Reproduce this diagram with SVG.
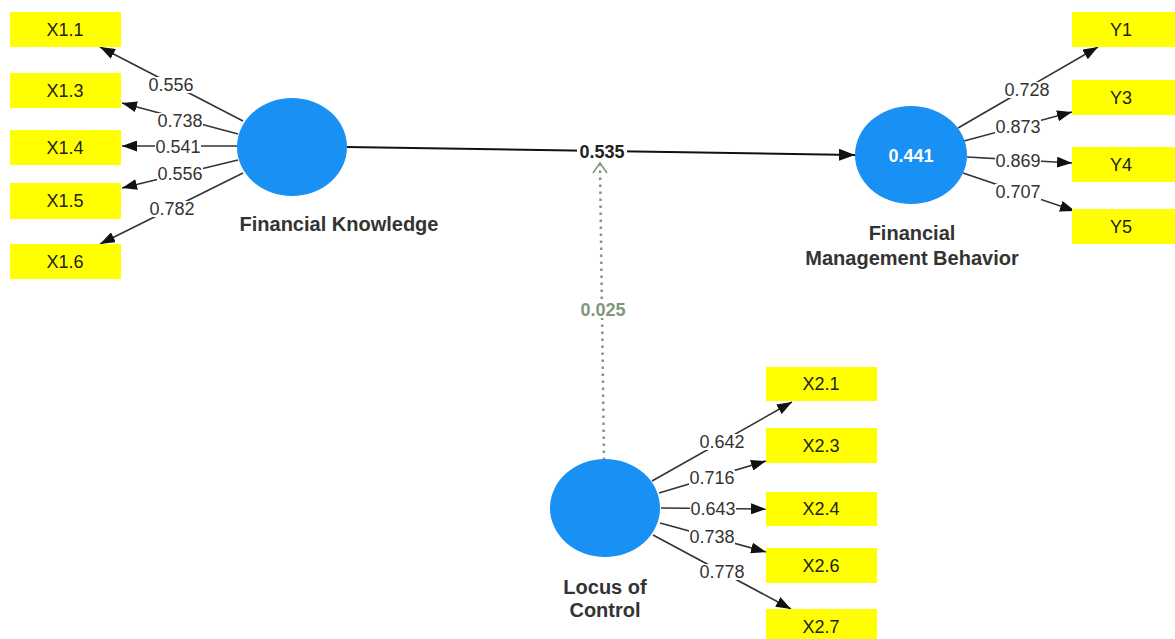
<svg xmlns="http://www.w3.org/2000/svg" width="1175" height="639" viewBox="0 0 1175 639">
<defs>
<style>
.box{fill:#ffff00}
.boxt{font-family:"Liberation Sans",Arial,sans-serif;font-size:18px;fill:#222;text-anchor:middle}
.lv{fill:#1890f4}
.title{font-family:"Liberation Sans",Arial,sans-serif;font-size:20px;font-weight:bold;fill:#333;text-anchor:middle}
.ld{stroke:#333;stroke-width:1.6;fill:none;marker-end:url(#ah)}
.bg{fill:#fff}
.lbl{font-family:"Liberation Sans",Arial,sans-serif;font-size:18px;fill:#333;text-anchor:middle}
</style>
<marker id="ah" viewBox="0 0 15 11" refX="15" refY="5.5" markerWidth="15" markerHeight="11" markerUnits="userSpaceOnUse" orient="auto">
<path d="M0,0 L15,5.5 L0,11 Z" fill="#111"/>
</marker>
<marker id="ahm" viewBox="0 0 16 12" refX="16" refY="6" markerWidth="16" markerHeight="12" markerUnits="userSpaceOnUse" orient="auto">
<path d="M0,0 L16,6 L0,12 Z" fill="#111"/>
</marker>
</defs>
<rect width="1175" height="639" fill="#fff"/>
<g id="connectors">
<line class="ld" x1="243" y1="121" x2="100" y2="47"/>
<line class="ld" x1="238" y1="134" x2="122" y2="103"/>
<line class="ld" x1="237" y1="146" x2="122" y2="146"/>
<line class="ld" x1="238" y1="160" x2="122" y2="188"/>
<line class="ld" x1="243" y1="173" x2="100" y2="244"/>
<line class="ld" x1="958" y1="128" x2="1098" y2="47"/>
<line class="ld" x1="964" y1="141" x2="1072" y2="112"/>
<line class="ld" x1="967" y1="157" x2="1072" y2="163"/>
<line class="ld" x1="963" y1="173" x2="1075" y2="211"/>
<line class="ld" x1="652" y1="481" x2="792" y2="402"/>
<line class="ld" x1="659" y1="493" x2="766" y2="461"/>
<line class="ld" x1="661" y1="508" x2="766" y2="509"/>
<line class="ld" x1="660" y1="523" x2="766" y2="552"/>
<line class="ld" x1="653" y1="535" x2="791" y2="609"/>
<line x1="347" y1="147" x2="855" y2="155" stroke="#111" stroke-width="2" marker-end="url(#ahm)"/>
<line x1="604" y1="460" x2="600" y2="165" stroke="#7d987d" stroke-width="2.5" stroke-dasharray="2.5,4.5"/>
<polyline points="593,173 600,163 607,173" fill="none" stroke="#7d987d" stroke-width="1.6"/>
<rect class="bg" x="148" y="77" width="46" height="16"/><text class="lbl" x="171" y="91">0.556</text>
<rect class="bg" x="157" y="113" width="46" height="16"/><text class="lbl" x="180" y="127">0.738</text>
<rect class="bg" x="155" y="139" width="46" height="16"/><text class="lbl" x="178" y="153">0.541</text>
<rect class="bg" x="157" y="166" width="46" height="16"/><text class="lbl" x="180" y="180">0.556</text>
<rect class="bg" x="149" y="201" width="46" height="16"/><text class="lbl" x="172" y="215">0.782</text>
<rect class="bg" x="1004" y="82" width="46" height="16"/><text class="lbl" x="1027" y="96">0.728</text>
<rect class="bg" x="995" y="119" width="46" height="16"/><text class="lbl" x="1018" y="133">0.873</text>
<rect class="bg" x="995" y="153" width="46" height="16"/><text class="lbl" x="1018" y="167">0.869</text>
<rect class="bg" x="995" y="184" width="46" height="16"/><text class="lbl" x="1018" y="198">0.707</text>
<rect class="bg" x="699" y="434" width="46" height="16"/><text class="lbl" x="722" y="448">0.642</text>
<rect class="bg" x="689" y="470" width="46" height="16"/><text class="lbl" x="712" y="484">0.716</text>
<rect class="bg" x="690" y="501" width="46" height="16"/><text class="lbl" x="713" y="515">0.643</text>
<rect class="bg" x="689" y="529" width="46" height="16"/><text class="lbl" x="712" y="543">0.738</text>
<rect class="bg" x="699" y="564" width="46" height="16"/><text class="lbl" x="722" y="578">0.778</text>
<rect class="bg" x="577" y="144" width="50" height="16"/><text class="lbl" x="602" y="158" style="font-weight:bold;fill:#222">0.535</text>
<rect class="bg" x="578" y="302" width="50" height="16"/><text class="lbl" x="603" y="316" style="font-weight:bold;fill:#7d987d">0.025</text>
</g>
<g id="fk">
<ellipse class="lv" cx="292" cy="147" rx="55" ry="49"/>
<text class="title" x="339" y="231">Financial Knowledge</text>
</g>
<g id="fmb">
<ellipse class="lv" cx="911" cy="155" rx="56" ry="49"/>
<text x="911" y="162" style="font-family:'Liberation Sans',Arial,sans-serif;font-size:18px;font-weight:bold;fill:#fff;text-anchor:middle">0.441</text>
<text class="title" x="912" y="240">Financial</text>
<text class="title" x="912" y="265">Management Behavior</text>
</g>
<g id="loc">
<ellipse class="lv" cx="605" cy="508" rx="55" ry="49"/>
<text class="title" x="605" y="594">Locus of</text>
<text class="title" x="605" y="617">Control</text>
</g>
<g id="x11"><rect class="box" x="10" y="12" width="111" height="35"/><text class="boxt" x="65" y="36">X1.1</text></g>
<g id="x13"><rect class="box" x="10" y="73" width="111" height="35"/><text class="boxt" x="65" y="97">X1.3</text></g>
<g id="x14"><rect class="box" x="10" y="130" width="111" height="35"/><text class="boxt" x="65" y="154">X1.4</text></g>
<g id="x15"><rect class="box" x="10" y="183" width="111" height="36"/><text class="boxt" x="65" y="207">X1.5</text></g>
<g id="x16"><rect class="box" x="10" y="244" width="111" height="35"/><text class="boxt" x="65" y="268">X1.6</text></g>
<g id="y1"><rect class="box" x="1072" y="12" width="103" height="35"/><text class="boxt" x="1121" y="36">Y1</text></g>
<g id="y3"><rect class="box" x="1072" y="80" width="103" height="35"/><text class="boxt" x="1121" y="104">Y3</text></g>
<g id="y4"><rect class="box" x="1072" y="147" width="103" height="35"/><text class="boxt" x="1121" y="171">Y4</text></g>
<g id="y5"><rect class="box" x="1072" y="209" width="103" height="35"/><text class="boxt" x="1121" y="233">Y5</text></g>
<g id="x21"><rect class="box" x="766" y="367" width="111" height="34"/><text class="boxt" x="821" y="390">X2.1</text></g>
<g id="x23"><rect class="box" x="766" y="428" width="111" height="35"/><text class="boxt" x="821" y="452">X2.3</text></g>
<g id="x24"><rect class="box" x="766" y="492" width="111" height="34"/><text class="boxt" x="821" y="515">X2.4</text></g>
<g id="x26"><rect class="box" x="766" y="548" width="111" height="35"/><text class="boxt" x="821" y="572">X2.6</text></g>
<g id="x27"><rect class="box" x="766" y="609" width="111" height="35"/><text class="boxt" x="821" y="633">X2.7</text></g>
</svg>
